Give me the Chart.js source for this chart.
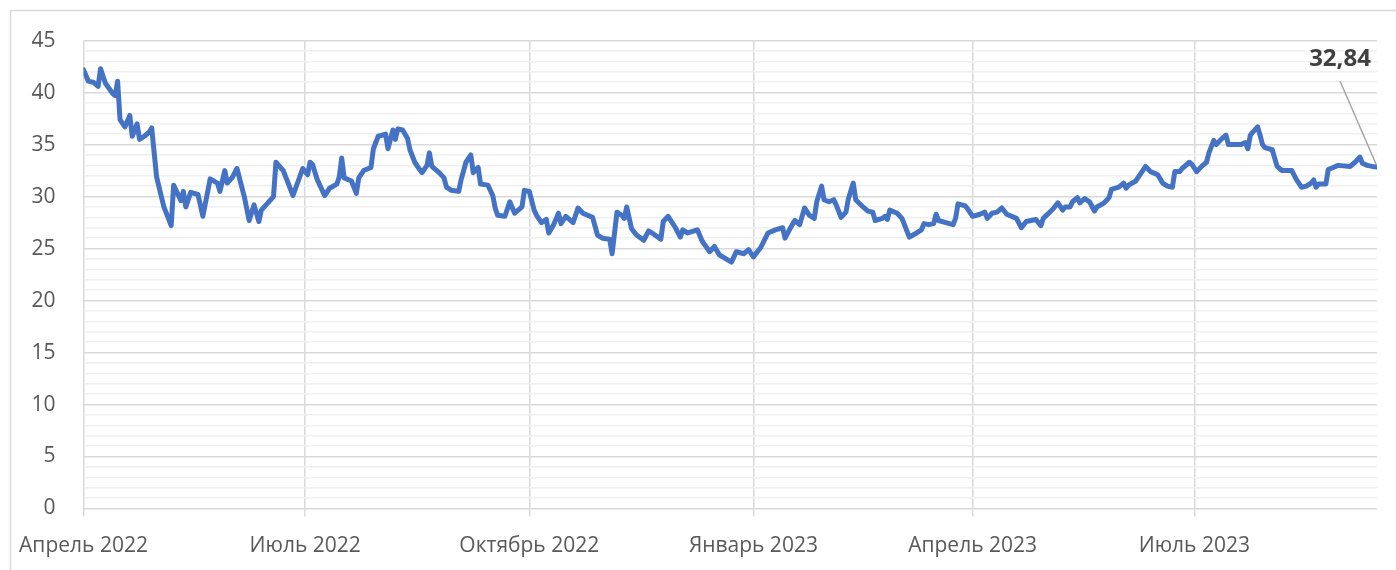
<!DOCTYPE html>
<html>
<head>
<meta charset="utf-8">
<script src="https://cdn.jsdelivr.net/npm/chart.js@4/dist/chart.umd.min.js"></script>
<style>
  html, body { margin: 0; padding: 0; background: #fff; }
  #wrap { position: relative; width: 1396px; height: 570px; }
</style>
</head>
<body>
<div id="wrap"><canvas id="price-chart" width="1396" height="570"></canvas></div>
<script>
// дни от 1 апреля 2022 и значения
var days = [0, 2, 4, 6, 7, 9, 12, 13, 14, 15, 17, 19, 20, 22, 23, 25, 27, 28, 30, 33, 36, 37, 40, 41, 42, 44, 47, 49, 52, 55, 56, 58, 59, 61, 63, 66, 68, 70, 72, 73, 78, 79, 82, 86,
  90, 92, 93, 94, 96, 99, 101, 104, 105, 106, 107, 110, 112, 113, 115, 118, 119, 121, 124, 125, 127, 128, 129, 131, 133, 134, 136, 138, 139, 141, 142, 143, 146, 148, 149, 151, 154, 155, 157, 159, 160, 162, 163, 166, 168, 169, 170, 173, 175, 177, 180, 181,
  183, 185, 186, 188, 190, 191, 193, 195, 196, 198, 201, 203, 205, 209, 211, 213, 216, 217, 219, 221, 222, 223, 225, 227, 230, 232, 234, 237, 238, 240, 243, 245, 246, 248, 252, 254, 257, 259, 261, 266, 268, 271, 273, 275, 278,
  281, 284, 287, 288, 290, 292, 294, 296, 298, 300, 301, 303, 304, 306, 308, 309, 311, 313, 314, 316, 317, 320, 322, 324, 325, 328, 329, 330, 331, 334, 336, 339, 342, 344, 345, 347, 349, 350, 351, 354, 357, 358, 359, 362, 363, 365, 368,
  370, 371, 373, 375, 377, 379, 383, 385, 387, 389, 391, 393, 394, 398, 400, 402, 403, 405, 406, 408, 409, 411, 413, 415, 416, 419, 421, 422, 425, 427, 428, 429, 432, 434, 436, 438, 441, 443, 445, 447, 448, 450, 451, 454, 455, 457, 459,
  461, 462, 464, 465, 467, 469, 470, 473, 475, 477, 478, 479, 480, 482, 483, 484, 485, 488, 490, 492, 494, 496, 498, 500, 502, 504, 505, 506, 507, 510, 511, 513, 515, 520, 522, 524, 525, 527, 529, 531];
var values = [42.2, 41.1, 41.0, 40.6, 42.3, 40.9, 39.9, 39.7, 41.1, 37.4, 36.7, 37.8, 35.8, 37.0, 35.5, 35.8, 36.2, 36.6, 31.9, 29.0, 27.2, 31.1, 29.6, 30.5, 29.0, 30.4, 30.2, 28.1, 31.7, 31.3, 30.5, 32.5, 31.3, 31.8, 32.7, 30.0, 27.7, 29.2, 27.6, 28.7, 30.0, 33.3, 32.5, 30.1,
  32.7, 32.1, 33.3, 33.1, 31.6, 30.1, 30.8, 31.2, 31.9, 33.7, 31.8, 31.5, 30.3, 31.8, 32.5, 32.8, 34.6, 35.8, 36.0, 34.6, 36.4, 35.5, 36.5, 36.4, 35.6, 34.5, 33.3, 32.6, 32.3, 33.0, 34.2, 32.9, 32.3, 31.8, 30.9, 30.6, 30.5, 31.6, 33.3, 34.0, 32.3, 32.8, 31.2, 31.1, 30.1, 28.9, 28.2, 28.1, 29.5, 28.4, 29.0, 30.6,
  30.5, 28.7, 28.2, 27.5, 27.8, 26.5, 27.3, 28.4, 27.4, 28.1, 27.5, 28.9, 28.4, 28.0, 26.3, 26.0, 25.9, 24.5, 28.5, 28.2, 27.9, 29.0, 26.9, 26.3, 25.8, 26.7, 26.4, 25.9, 27.6, 28.1, 27.0, 26.1, 26.8, 26.5, 26.8, 25.7, 24.7, 25.2, 24.4, 23.7, 24.7, 24.5, 24.9, 24.2, 25.1,
  26.5, 26.8, 27.0, 26.0, 26.9, 27.7, 27.3, 28.9, 28.2, 27.9, 29.5, 31.0, 29.7, 29.5, 29.7, 29.2, 28.0, 28.5, 29.8, 31.3, 29.7, 29.0, 28.6, 28.5, 27.7, 27.9, 28.1, 27.8, 28.7, 28.4, 27.9, 26.1, 26.5, 26.8, 27.4, 27.3, 27.4, 28.3, 27.7, 27.5, 27.3, 27.9, 29.3, 29.1, 28.8, 28.1, 28.3,
  28.5, 27.9, 28.4, 28.5, 28.9, 28.3, 27.9, 27.0, 27.6, 27.7, 27.8, 27.2, 27.9, 28.8, 29.4, 28.7, 29.0, 29.0, 29.5, 29.9, 29.4, 29.8, 29.5, 28.6, 29.0, 29.4, 29.9, 30.7, 30.9, 31.3, 30.8, 31.1, 31.5, 32.2, 32.9, 32.4, 32.1, 31.3, 31.0, 30.9, 32.4, 32.4, 32.7, 33.3, 33.1, 32.4, 32.9,
  33.3, 34.2, 35.4, 35.0, 35.5, 35.9, 35.0, 35.0, 35.0, 35.2, 34.6, 35.9, 36.2, 36.7, 35.9, 35.0, 34.7, 34.5, 32.9, 32.5, 32.5, 32.5, 31.6, 30.9, 31.0, 31.3, 31.6, 30.9, 31.2, 31.2, 32.6, 32.8, 33.0, 32.9, 33.3, 33.8, 33.2, 33.0, 32.9, 32.84];

// подписи оси X (первые дни кварталов)
var monthDays = [0, 91, 183, 275, 365, 456];
var monthLabels = ['Апрель 2022', 'Июль 2022', 'Октябрь 2022', 'Январь 2023', 'Апрель 2023', 'Июль 2023'];
var lastLabel = '32,84';

var points = days.map(function (d, i) { return { x: d, y: values[i] }; });

// рамка вокруг диаграммы
var framePlugin = {
  id: 'frame',
  beforeDraw: function (chart) {
    var c = chart.ctx;
    c.save();
    c.strokeStyle = '#d9d9d9';
    c.lineWidth = 1.5;
    c.strokeRect(10.5, 10.5, 1400, 600);
    c.restore();
  }
};

// подпись последнего значения с выноской
var lastValuePlugin = {
  id: 'lastValue',
  afterDatasetsDraw: function (chart) {
    var meta = chart.getDatasetMeta(0);
    var p = meta.data[meta.data.length - 1];
    var c = chart.ctx;
    var tx = p.x - 37, ty = p.y - 108;
    c.save();
    c.strokeStyle = '#a6a6a6';
    c.lineWidth = 1.5;
    c.beginPath();
    c.moveTo(tx, ty + 22);
    c.lineTo(p.x - 1, p.y - 3);
    c.stroke();
    c.fillStyle = '#404040';
    c.font = 'bold 24px "Open Sans"';
    c.textAlign = 'center';
    c.textBaseline = 'middle';
    c.fillText(lastLabel, tx, ty);
    c.restore();
  }
};

var ctx = document.getElementById('price-chart').getContext('2d');
var chart = new Chart(ctx, {
  type: 'line',
  data: {
    datasets: [{
      data: points,
      borderColor: '#4472c4',
      borderWidth: 5,
      pointRadius: 0,
      tension: 0,
      borderJoinStyle: 'round',
      borderCapStyle: 'round'
    }]
  },
  options: {
    responsive: false,
    animation: false,
    layout: { padding: { top: 40, right: 19, left: 0, bottom: 0 } },
    plugins: { legend: { display: false }, tooltip: { enabled: false } },
    scales: {
      x: {
        type: 'linear',
        min: 0,
        max: 531,
        afterBuildTicks: function (scale) {
          scale.ticks = monthDays.map(function (d) { return { value: d }; });
        },
        afterFit: function (scale) { scale.height = 61.5; },
        grid: { color: '#d9d9d9', lineWidth: 1.5, tickLength: 8, drawTicks: true },
        border: { display: false },
        ticks: {
          autoSkip: false,
          maxRotation: 0,
          padding: 17,
          color: '#595959',
          font: { family: 'Open Sans', size: 21 },
          callback: function (v) {
            var i = monthDays.indexOf(v);
            return i >= 0 ? monthLabels[i] : '';
          }
        }
      },
      y: {
        min: 0,
        max: 45,
        afterFit: function (scale) { scale.width = 83.5; },
        grid: {
          drawTicks: false,
          color: function (c) { return c.tick.value % 5 === 0 ? '#d9d9d9' : '#f0f0f0'; },
          lineWidth: 1.5
        },
        border: { display: false },
        ticks: {
          stepSize: 1,
          autoSkip: false,
          padding: 28,
          color: '#595959',
          font: { family: 'Open Sans', size: 21 },
          callback: function (v) { return v % 5 === 0 ? String(v) : ''; }
        }
      }
    }
  },
  plugins: [framePlugin, lastValuePlugin]
});
</script>
</body>
</html>
